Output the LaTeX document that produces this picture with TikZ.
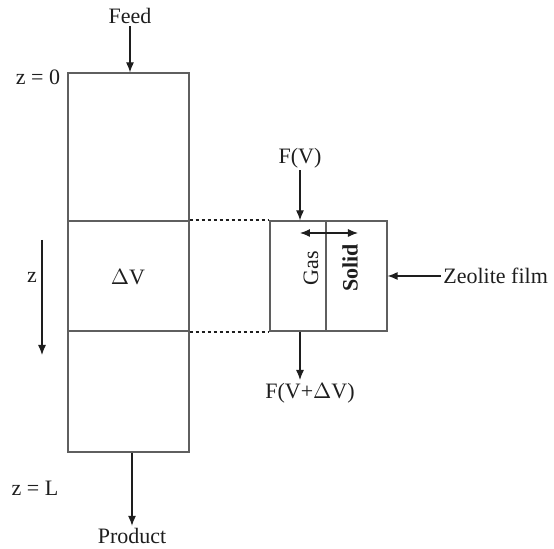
\documentclass[tikz,border=0pt]{standalone}
\usepackage{fontspec}
\setmainfont{Liberation Serif}
\usetikzlibrary{arrows.meta,positioning}
\definecolor{ink}{RGB}{30,30,30}
\definecolor{wall}{RGB}{95,95,95}

\begin{document}
\begin{tikzpicture}[
  x=0.5pt,y=-0.5pt,
  font=\fontsize{11}{13}\selectfont,
  seg/.style={draw=wall,line width=.6pt,minimum width=60.5pt,inner sep=0pt},
  film/.style={draw=wall,line width=.6pt,minimum height=55pt,inner sep=0pt},
  flow/.style={-{Latex[length=5pt,width=4pt]},draw=ink,line width=.6pt},
  both/.style={{Latex[length=5pt,width=4pt]}-{Latex[length=5pt,width=4pt]},draw=ink,line width=.6pt},
  link/.style={draw=ink,dash pattern=on 1.5pt off 1.5pt,line width=1pt},
  lab/.style={text=ink,inner sep=1pt}
]
\useasboundingbox (0,0) rectangle (554,549);

% Column of the reactor.
\node[seg,minimum height=74pt]   (top) at (128.5,147)   {};
\node[seg,minimum height=55pt]   (dv)  at (128.5,276)   {};
\node[seg,minimum height=60.5pt] (bot) at (128.5,391.5) {};
\node[lab] (dvlab) at (128,277) {$\Delta$V};

% Axis labels.
\node[lab] (z0) at (38,77)  {z = 0};
\node[lab] (zL) at (35,488) {z = L};
\node[lab] (zlab) at (32,277) {z};
\coordinate (zs) at (42,240);
\coordinate (ze) at (42,355);
\draw[flow] (zs) -- (ze);

% Feed and product.
\node[lab] (feed) at (130,16) {Feed};
\draw[flow] (feed.south) -- (feed.south |- top.north);
\node[lab] (prod) at (132,536) {Product};
\draw[flow] (prod.north |- bot.south) -- (prod.north);

% Element of volume: gas and zeolite film.
\node[film,minimum width=28pt]   (gas)   at (298,276)   {};
\node[film,minimum width=30.5pt] (solid) at (356.5,276) {};
\node[lab,rotate=90] (gaslab)   at (311,268) {Gas};
\node[lab,rotate=90] (solidlab) at (350,268) {\bfseries Solid};
\coordinate (ex1) at (300,233);
\coordinate (ex2) at (358,233);
\draw[both] (ex1) -- (ex2);

\draw[link] (dv.north east) -- (gas.north west);
\draw[link] (dv.south east) -- (gas.south west);

% Fluxes in and out of the element.
\node[lab] (fin) at (300,158) {F(V)};
\draw[flow] (fin.south) -- (fin.south |- gas.north);
\node[lab] (fout) at (310,393) {F(V+$\Delta$V)};
\coordinate (fo) at (300,380);
\draw[flow] (fo |- gas.south) -- (fo);

\node[lab,anchor=west] (zeo) at (441,276) {Zeolite film};
\draw[flow] (zeo.west) -- (solid.east);

\end{tikzpicture}
\end{document}
